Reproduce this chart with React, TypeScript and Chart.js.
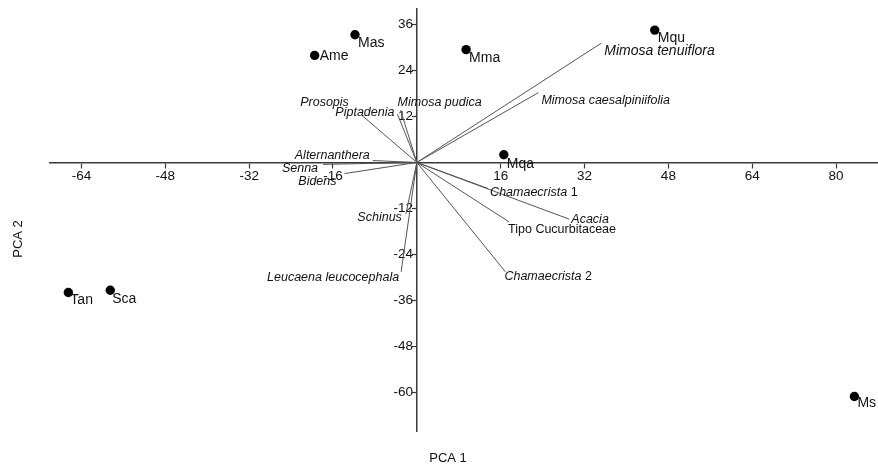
import React, { useEffect, useRef } from "react";
import { Chart, registerables } from "chart.js";

Chart.register(...registerables);

// ---- Data ----
const siteNames = ["Mas", "Ame", "Mma", "Mqu", "Mqa", "Tan", "Sca", "Ms"];
const siteX = [-11.8, -19.5, 9.4, 45.4, 16.6, -66.5, -58.5, 83.5];
const siteY = [33.3, 27.9, 29.4, 34.5, 2.0, -33.9, -33.3, -61.0];

const vectorNames = [
  "Mimosa tenuiflora",
  "Mimosa caesalpiniifolia",
  "Mimosa pudica",
  "Piptadenia",
  "Prosopis",
  "Alternanthera",
  "Senna",
  "Bidens",
  "Schinus",
  "Leucaena leucocephala",
  "Chamaecrista 1",
  "Acacia",
  "Tipo Cucurbitaceae",
  "Chamaecrista 2",
];
const vectorX = [35.2, 23.2, -3.1, -3.7, -10.5, -8.4, -17.9, -13.8, -2.1, -3.0, 13.6, 29.1, 17.6, 16.9];
const vectorY = [31.1, 18.2, 13.6, 12.6, 12.3, 0.5, -0.5, -2.9, -13.5, -28.5, -6.8, -14.8, -15.5, -28.5];
const vectorItalic = [true, true, true, true, true, true, true, true, true, true, true, true, false, true];

const xTickValues = [-64, -48, -32, -16, 16, 32, 48, 64, 80];
const yTickValues = [36, 24, 12, -12, -24, -36, -48, -60];

const xTitle = "PCA 1";
const yTitle = "PCA 2";

// ---- Label placement (pixel offsets from the mark; layout only) ----
// [align, dx, dy, fontSize]
const vectorLabelPlacement: [CanvasTextAlign, number, number, number][] = [
  ["left", 3, 8, 14],
  ["left", 3, 8, 12.5],
  ["left", -3, -8, 12.5],
  ["right", -3, -2, 12.5],
  ["right", -13, -13, 12.5],
  ["right", -3, -5, 12.5],
  ["right", -5, 4, 12.5],
  ["right", -8, 8, 12.5],
  ["right", -4, 3, 12.5],
  ["right", -2, 6, 12.5],
  ["left", 2, 4, 12.5],
  ["left", 2, 0, 12.5],
  ["left", -1, 8, 12.5],
  ["left", -1, 5, 12.5],
];
const siteLabelOffset: [number, number][] = [
  [3, 8], [5, 1], [3, 8], [3, 8], [3, 9], [2, 8], [2, 9], [3, 7],
];

const FONT = '"Liberation Sans", Arial, Helvetica, sans-serif';
const TEXT = "#111111";
const AXIS = "#3a3a3a";
const VEC = "#555555";

function drawVectorLabel(
  ctx: CanvasRenderingContext2D,
  name: string,
  italic: boolean,
  x: number,
  y: number,
  align: CanvasTextAlign,
  size: number
) {
  const parts: { t: string; it: boolean }[] = [];
  const m = name.match(/^(.*?)( \d+)$/);
  if (m && italic) {
    parts.push({ t: m[1], it: true });
    parts.push({ t: m[2], it: false });
  } else {
    parts.push({ t: name, it: italic });
  }
  const fontFor = (it: boolean) => `${it ? "italic " : ""}${size}px ${FONT}`;
  let total = 0;
  const widths = parts.map((p) => {
    ctx.font = fontFor(p.it);
    const w = ctx.measureText(p.t).width;
    total += w;
    return w;
  });
  let cx = align === "right" ? x - total : x;
  ctx.textAlign = "left";
  ctx.textBaseline = "middle";
  parts.forEach((p, i) => {
    ctx.font = fontFor(p.it);
    ctx.fillText(p.t, cx, y);
    cx += widths[i];
  });
}

const labelPlugin = {
  id: "pcaLabels",
  beforeDraw(chart: any) {
    const ctx = chart.ctx;
    ctx.save();
    ctx.fillStyle = "#ffffff";
    ctx.fillRect(0, 0, chart.width, chart.height);
    ctx.restore();
  },
  afterDatasetsDraw(chart: any) {
    const ctx: CanvasRenderingContext2D = chart.ctx;
    const xs = chart.scales.x;
    const ys = chart.scales.y;
    ctx.save();
    ctx.fillStyle = TEXT;
    vectorNames.forEach((name, i) => {
      const px = xs.getPixelForValue(vectorX[i]);
      const py = ys.getPixelForValue(vectorY[i]);
      const [align, dx, dy, size] = vectorLabelPlacement[i];
      drawVectorLabel(ctx, name, vectorItalic[i], px + dx, py + dy, align, size);
    });
    const meta = chart.getDatasetMeta(0);
    ctx.font = `14px ${FONT}`;
    ctx.textAlign = "left";
    ctx.textBaseline = "middle";
    siteNames.forEach((name, i) => {
      const el = meta.data[i];
      const [dx, dy] = siteLabelOffset[i];
      ctx.fillText(name, el.x + dx, el.y + dy);
    });
    // axis titles
    ctx.font = `13px ${FONT}`;
    ctx.textAlign = "center";
    ctx.textBaseline = "middle";
    ctx.fillText(xTitle, 448, 458);
    ctx.save();
    ctx.translate(18, 239);
    ctx.rotate(-Math.PI / 2);
    ctx.fillText(yTitle, 0, 0);
    ctx.restore();
    ctx.restore();
  },
};

const zeroSidePadding = (axis: any) => {
  axis.paddingLeft = 0;
  axis.paddingRight = 0;
  axis.paddingTop = 0;
  axis.paddingBottom = 0;
};

export default function App() {
  const ref = useRef<HTMLCanvasElement | null>(null);
  useEffect(() => {
    document.body.style.margin = "0";
    const canvas = ref.current;
    if (!canvas) return;
    const vectorDatasets = vectorNames.map((name, i) => ({
      type: "scatter" as const,
      label: name,
      data: [
        { x: 0, y: 0 },
        { x: vectorX[i], y: vectorY[i] },
      ],
      showLine: true,
      borderColor: VEC,
      borderWidth: 1,
      pointRadius: 0,
      pointHoverRadius: 0,
      fill: false,
    }));
    const chart = new Chart(canvas, {
      type: "scatter",
      data: {
        datasets: [
          {
            label: "Sites",
            data: siteNames.map((_, i) => ({ x: siteX[i], y: siteY[i] })),
            backgroundColor: "#000000",
            borderColor: "#000000",
            borderWidth: 0,
            pointRadius: 4.7,
            pointHoverRadius: 4.7,
          },
          ...vectorDatasets,
        ],
      },
      options: {
        animation: false,
        responsive: false,
        devicePixelRatio: 1,
        layout: { autoPadding: false, padding: { left: 50, right: 0, top: 9, bottom: 35 } },
        plugins: {
          legend: { display: false },
          tooltip: { enabled: false },
          title: { display: false },
        },
        scales: {
          x: {
            type: "linear",
            min: -70,
            max: 88,
            position: { y: 0 } as any,
            afterBuildTicks: (axis: any) => {
              axis.ticks = xTickValues.map((v) => ({ value: v }));
            },
            afterFit: zeroSidePadding,
            ticks: {
              callback: (v: any) => String(v),
              font: { size: 13.5, family: FONT },
              color: TEXT,
              padding: 1,
              autoSkip: false,
              maxRotation: 0,
            },
            grid: {
              display: true,
              drawOnChartArea: false,
              drawTicks: true,
              tickLength: 5,
              tickColor: AXIS,
              tickWidth: 1.2,
            },
            border: { display: true, color: AXIS, width: 1.5 },
          },
          y: {
            type: "linear",
            min: -70,
            max: 40,
            position: { x: 0 } as any,
            afterBuildTicks: (axis: any) => {
              axis.ticks = yTickValues.map((v) => ({ value: v }));
            },
            afterFit: zeroSidePadding,
            ticks: {
              callback: (v: any) => String(v) + " ",
              font: { size: 13.5, family: FONT },
              color: TEXT,
              padding: 0,
              autoSkip: false,
            },
            grid: {
              display: true,
              drawOnChartArea: false,
              drawTicks: true,
              tickLength: 4,
              tickColor: AXIS,
              tickWidth: 1.2,
            },
            border: { display: true, color: AXIS, width: 1.5 },
          },
        },
      },
      plugins: [labelPlugin],
    } as any);
    return () => chart.destroy();
  }, []);
  return (
    <div style={{ width: 878, height: 466 }}>
      <canvas ref={ref} width={878} height={466} style={{ display: "block" }} />
    </div>
  );
}
